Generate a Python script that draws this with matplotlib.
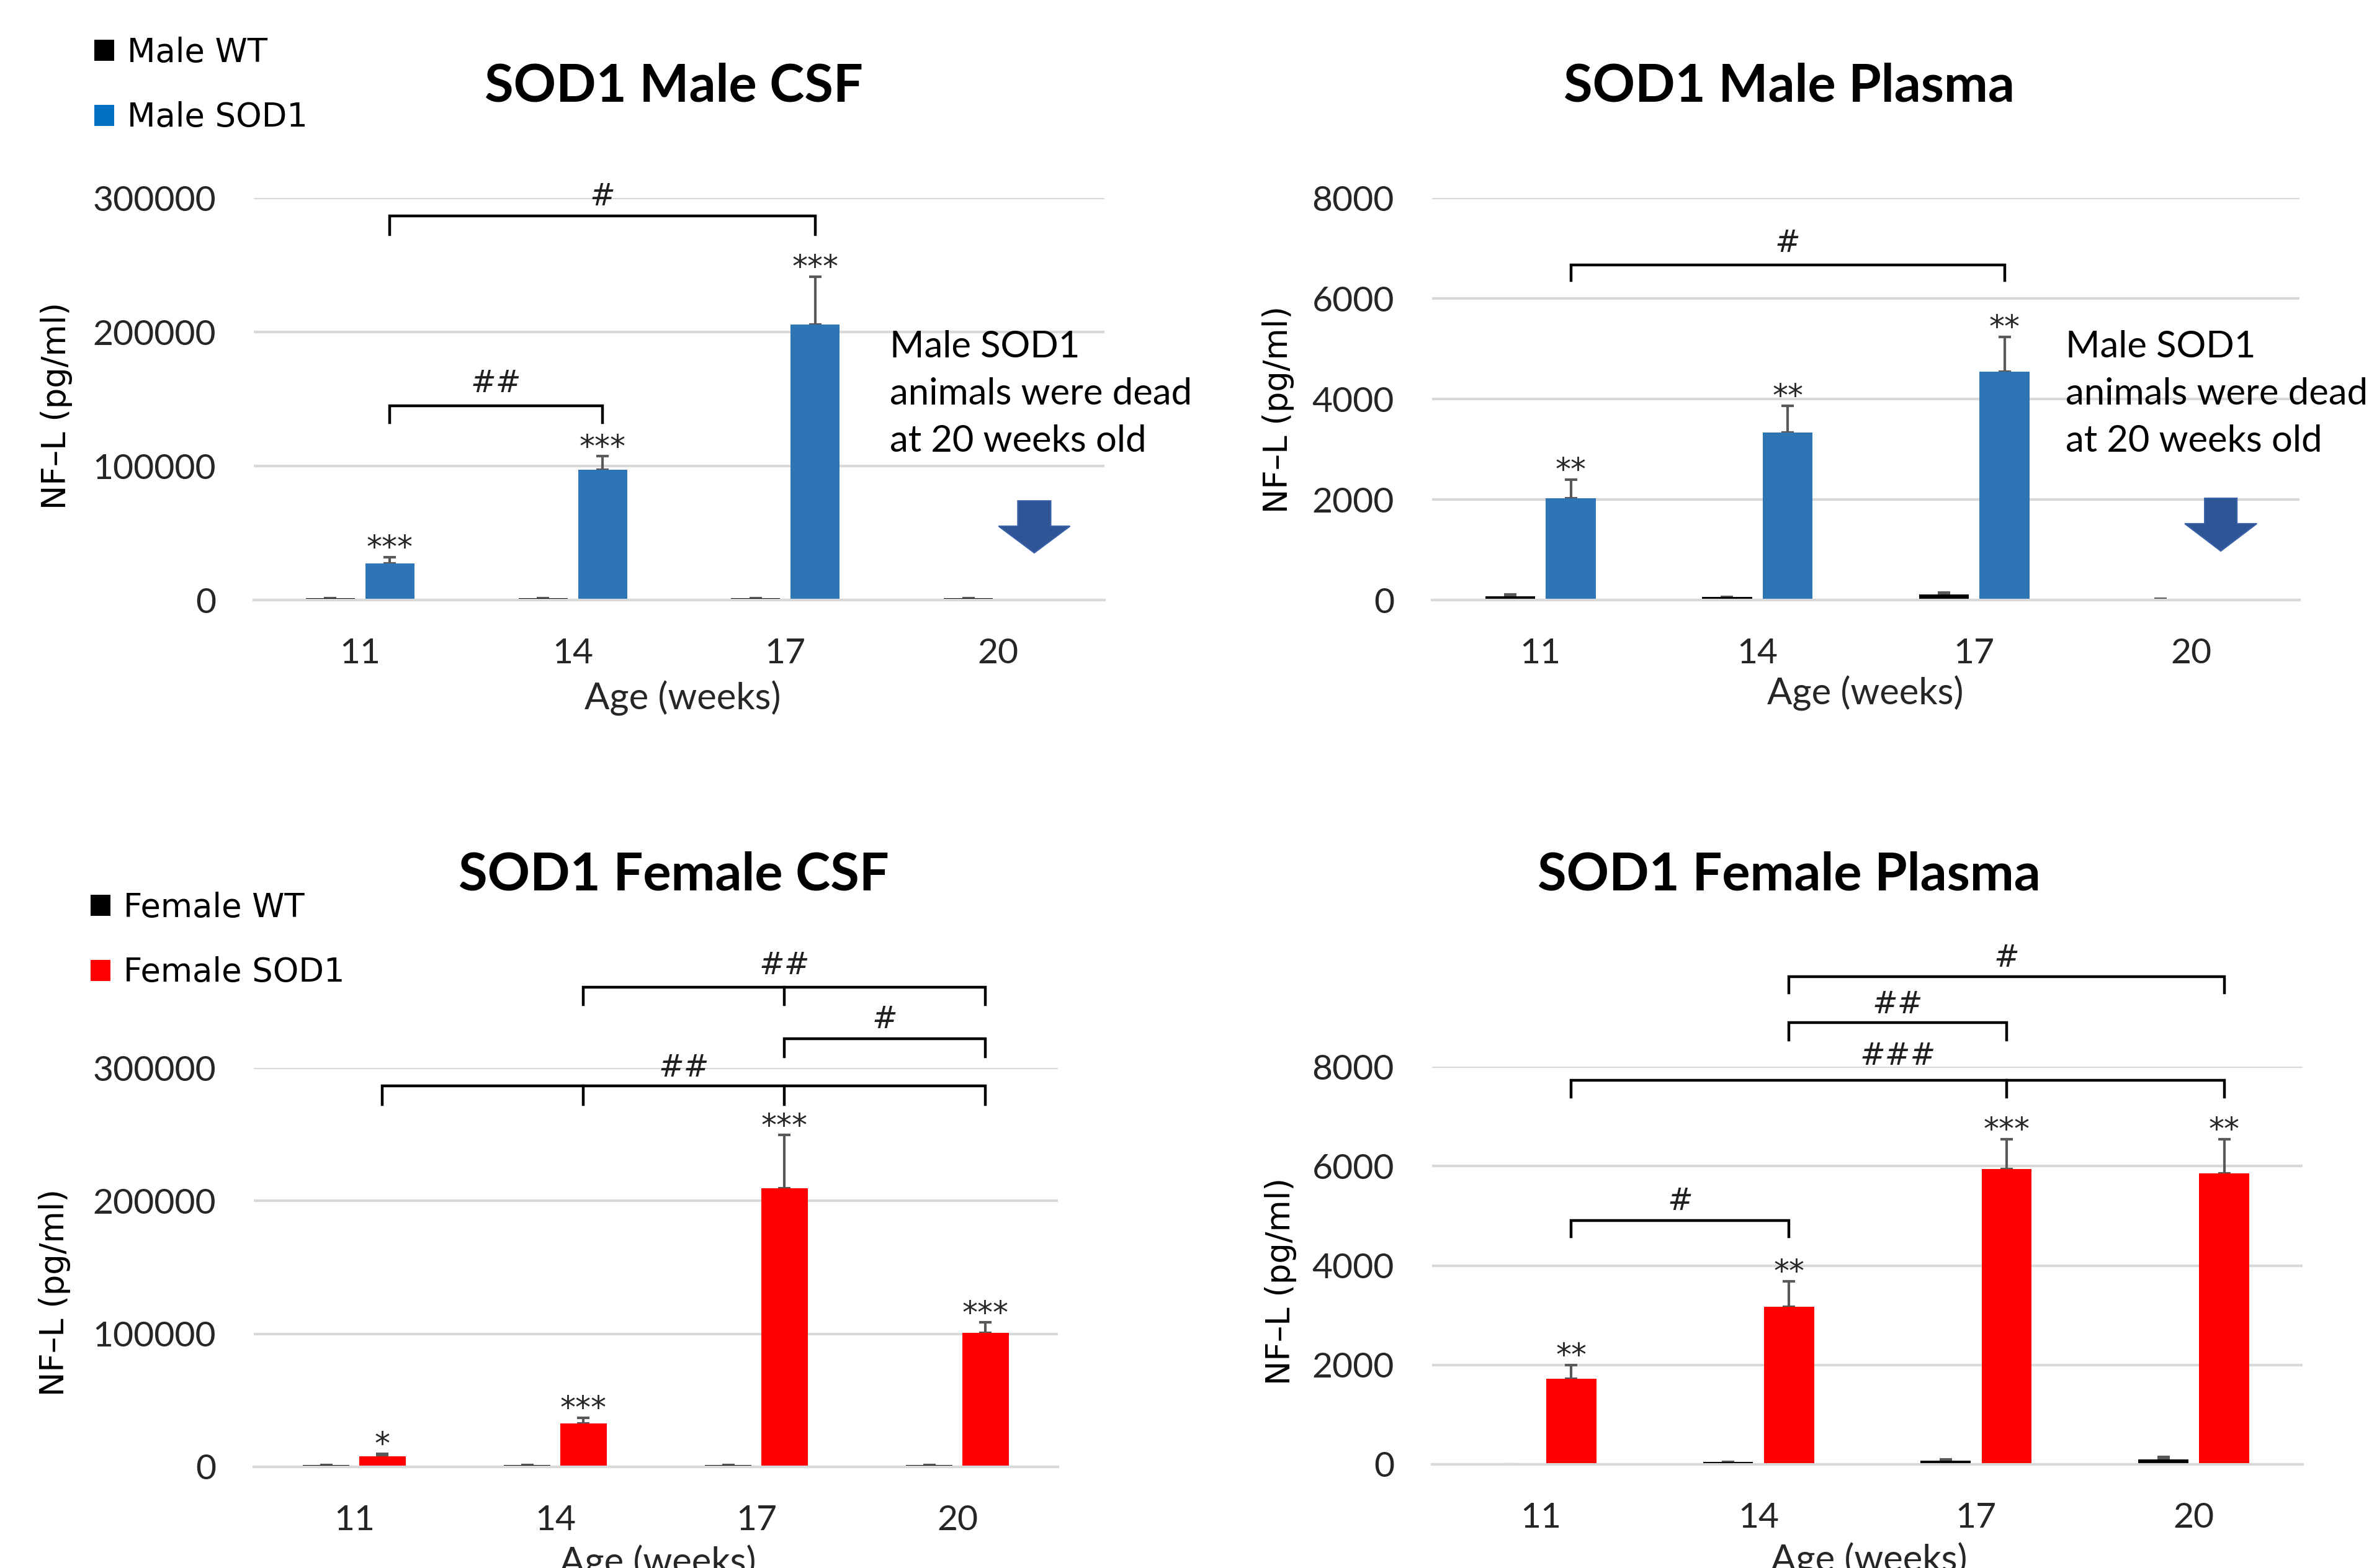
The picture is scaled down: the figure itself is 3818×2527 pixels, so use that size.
import numpy as np
import matplotlib
matplotlib.use("Agg")
import matplotlib.pyplot as plt
from matplotlib.patches import FancyArrow, Patch
from matplotlib.ticker import StrMethodFormatter

#data
ages = ["11", "14", "17", "20"]

male_csf_wt = [1200, 1200, 1200, 1200]
male_csf_wt_err = [0, 0, 0, 0]
male_csf_sod1 = [27200, 97100, 205400, np.nan]
male_csf_sod1_err = [4700, 10100, 35900, np.nan]
male_csf_stars = ["***", "***", "***", ""]

male_plasma_wt = [76, 67, 105, 29]
male_plasma_wt_err = [38, 0, 38, 0]
male_plasma_sod1 = [2030, 3330, 4540, np.nan]
male_plasma_sod1_err = [370, 540, 700, np.nan]
male_plasma_stars = ["**", "**", "**", ""]

female_csf_wt = [1200, 1200, 1200, 1200]
female_csf_wt_err = [0, 0, 0, 0]
female_csf_sod1 = [8100, 32500, 209600, 100700]
female_csf_sod1_err = [1900, 4400, 39800, 7800]
female_csf_stars = ["*", "***", "***", "***"]

female_plasma_wt = [0, 50, 70, 105]
female_plasma_wt_err = [0, 0, 25, 40]
female_plasma_sod1 = [1717, 3170, 5940, 5850]
female_plasma_sod1_err = [283, 510, 600, 690]
female_plasma_stars = ["**", "**", "***", "**"]

#style
W, H = 3818, 2527
BLUE = "#2E75B6"
BLUE_LEG = "#0070C0"
RED = "#FF0000"
GRID = "#D9D9D9"
ERR = "#595959"
TXT = "#262626"
HASH = "#1F1F1F"
OFF = 0.14
BW = 0.23
NOTE = "Male SOD1\nanimals were dead\nat 20 weeks old"
YLAB = "NF–L (pg/ml)"

plt.rcParams["font.family"] = ["Lato", "DejaVu Sans"]

fig = plt.figure(figsize=(W / 100, H / 100), dpi=100)
x = np.arange(len(ages))


def px(xp, yp):
    return xp / W, 1 - yp / H


def make_axes(l, t, r, b, ymax, ystep):
    ax = fig.add_axes([l / W, 1 - b / H, (r - l) / W, (b - t) / H])
    ax.set_xlim(-0.5, 3.5)
    ax.set_ylim(0, ymax)
    ax.set_yticks(np.arange(0, ymax + 1, ystep))
    ax.yaxis.set_major_formatter(StrMethodFormatter("{x:.0f}"))
    ax.set_xticks(x, ages)
    ax.tick_params(length=0, labelsize=41, colors=TXT, pad=44)
    ax.grid(axis="y", color=GRID, linewidth=3)
    ax.set_axisbelow(True)
    for side in ["top", "left", "right"]:
        ax.spines[side].set_visible(False)
    ax.spines["bottom"].set_color(GRID)
    ax.spines["bottom"].set_linewidth(3)
    return ax


def draw_bars(ax, wt, wt_err, sod1, sod1_err, color, stars):
    wt = np.array(wt, dtype=float)
    sod1 = np.array(sod1, dtype=float)
    wt_err = np.array(wt_err, dtype=float)
    sod1_err = np.array(sod1_err, dtype=float)
    ax.bar(x - OFF, wt, BW, color="black", linewidth=0, zorder=2)
    ax.bar(x + OFF, sod1, BW, color=color, linewidth=0, zorder=2)
    e1 = np.where(wt_err > 0, wt_err, np.nan)
    ax.errorbar(x - OFF, wt, yerr=[np.zeros(4), e1], fmt="none", ecolor=ERR,
                elinewidth=3, capsize=7, capthick=3, zorder=1.9)
    ax.errorbar(x + OFF, sod1, yerr=[np.zeros(4), sod1_err], fmt="none", ecolor=ERR,
                elinewidth=3, capsize=7, capthick=3, zorder=1.9)
    for i, s in enumerate(stars):
        if s:
            ax.annotate(s, (x[i] + OFF, sod1[i] + sod1_err[i]), xytext=(0, 10),
                        textcoords="offset points", ha="center", va="center",
                        fontsize=36, family="DejaVu Sans", color=TXT)


def bracket(ax, i0, i1, y_bar, y_leg, label, y_label, mids=()):
    x0, x1 = i0 + OFF, i1 + OFF
    ax.plot([x0, x0, x1, x1], [y_leg, y_bar, y_bar, y_leg], color="black",
            linewidth=3.2, clip_on=False, solid_joinstyle="miter")
    for m in mids:
        ax.plot([m + OFF, m + OFF], [y_bar, y_leg], color="black",
                linewidth=3.2, clip_on=False)
    ax.text((x0 + x1) / 2, y_label, label, ha="center", va="center",
            fontsize=35, family="DejaVu Sans", style="italic", color=HASH,
            clip_on=False)


def down_arrow(ax, xc, y_top, y_neck, y_tip, shaft, head):
    ax.add_patch(FancyArrow(xc, y_top, 0, y_tip - y_top, width=shaft,
                            head_width=head, head_length=y_neck - y_tip,
                            length_includes_head=True, facecolor="#2F5597",
                            edgecolor="#3A62A8", linewidth=1.5, clip_on=False,
                            zorder=3))


def legend(labels, color, xp, yp):
    handles = [Patch(facecolor="black"), Patch(facecolor=color)]
    fig.legend(handles, labels, loc="center left", bbox_to_anchor=px(xp, yp),
               frameon=False, borderpad=0, borderaxespad=0, handlelength=0.6,
               handleheight=0.6, handletextpad=0.4, labelspacing=1.0,
               prop={"family": "DejaVu Sans", "size": 38})


def texts(title, title_xy, ylab_xy, xlab_xy):
    fig.text(*px(*title_xy), title, ha="center", va="center",
             fontsize=61, fontweight="bold", color="black")
    fig.text(*px(*ylab_xy), YLAB, rotation=90, ha="center", va="center",
             fontsize=38, family="DejaVu Sans", color="black")
    fig.text(*px(*xlab_xy), "Age (weeks)", ha="center", va="center",
             fontsize=43, color=TXT)


#panel 1 - male CSF
ax1 = make_axes(409, 319, 1780, 967, 300000, 100000)
draw_bars(ax1, male_csf_wt, male_csf_wt_err, male_csf_sod1, male_csf_sod1_err, BLUE, male_csf_stars)
bracket(ax1, 0, 2, 286600, 272800, "#", 300700)
bracket(ax1, 0, 1, 144900, 132200, "##", 161600)
ax1.text(2.49, 153700, NOTE, ha="left", va="center", fontsize=43,
         linespacing=1.5, color="black")
down_arrow(ax1, 3.17, 74000, 55100, 35200, 0.155, 0.336)
texts("SOD1 Male CSF", (1086, 139), (91, 654), (1100, 1125))
legend(["Male WT", "Male SOD1"], BLUE_LEG, 152, 137)

#panel 2 - male plasma
ax2 = make_axes(2308, 319, 3706, 967, 8000, 2000)
draw_bars(ax2, male_plasma_wt, male_plasma_wt_err, male_plasma_sod1, male_plasma_sod1_err, BLUE, male_plasma_stars)
bracket(ax2, 0, 2, 6667, 6362, "#", 7095)
ax2.text(2.42, 4099, NOTE, ha="left", va="center", fontsize=43,
         linespacing=1.5, color="black")
down_arrow(ax2, 3.137, 2025, 1519, 975, 0.149, 0.332)
texts("SOD1 Male Plasma", (2883, 139), (2060, 660), (3006, 1117))

#panel 3 - female CSF
ax3 = make_axes(409, 1721, 1705, 2364, 300000, 100000)
draw_bars(ax3, female_csf_wt, female_csf_wt_err, female_csf_sod1, female_csf_sod1_err, RED, female_csf_stars)
bracket(ax3, 1, 3, 360500, 347600, "##", 377000, mids=[2])
bracket(ax3, 2, 3, 322000, 308400, "#", 336600)
bracket(ax3, 0, 3, 286400, 272500, "##", 300000, mids=[1, 2])
texts("SOD1 Female CSF", (1086, 1410), (88, 2083), (1060, 2518))
legend(["Female WT", "Female SOD1"], RED, 146, 1515)

#panel 4 - female plasma
ax4 = make_axes(2308, 1719, 3711, 2360, 8000, 2000)
draw_bars(ax4, female_plasma_wt, female_plasma_wt_err, female_plasma_sod1, female_plasma_sod1_err, RED, female_plasma_stars)
bracket(ax4, 1, 3, 9809, 9487, "#", 10181)
bracket(ax4, 1, 2, 8880, 8538, "##", 9242)
bracket(ax4, 0, 3, 7726, 7384, "###", 8215, mids=[2])
bracket(ax4, 0, 1, 4900, 4577, "#", 5291)
texts("SOD1 Female Plasma", (2883, 1410), (2064, 2065), (3012, 2514))

plt.savefig("out.png", dpi=100)
